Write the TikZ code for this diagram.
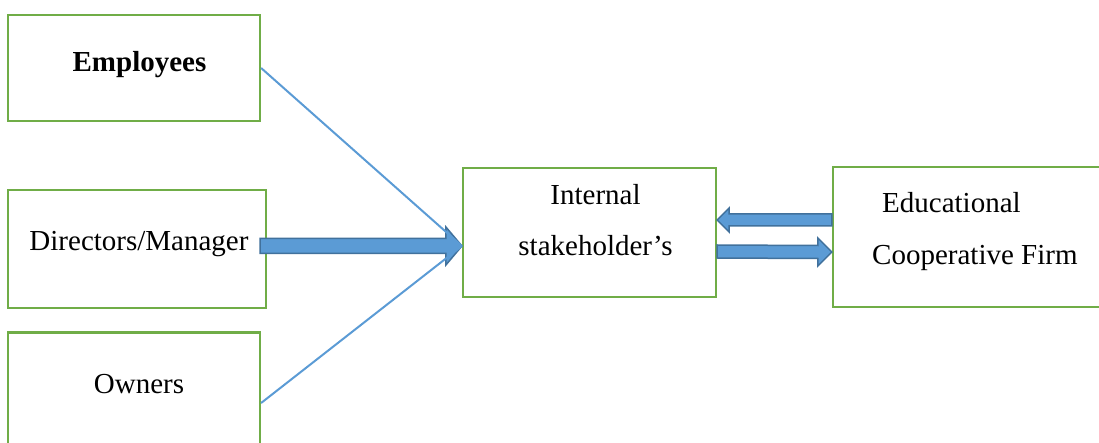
\documentclass[tikz,border=0pt]{standalone}
\usepackage{fontspec}
\setmainfont{Liberation Serif}
\usetikzlibrary{calc}

\definecolor{boxgreen}{HTML}{70AD47}
\definecolor{linkblue}{HTML}{5B9BD5}
\definecolor{edgeblue}{HTML}{41719C}

\tikzset{
  stakebox/.style={draw=boxgreen, line width=2.2pt, fill=white, inner sep=0pt},
  label/.style={anchor=base, inner sep=0pt, font=\fontsize{29}{34}\selectfont},
  thinlink/.style={draw=linkblue, line width=2pt},
  fatlink/.style={fill=linkblue, draw=edgeblue, line width=1.5pt, line join=miter},
}

% block arrow from #1 (tail) to #2 (tip): half shaft #3, half head #4, head length #5 (signed)
\newcommand\blockarrow[5]{%
  \draw[fatlink] ($(#1)+(0,#3)$) -- ($(#2)+({-(#5)},#3)$) -- ($(#2)+({-(#5)},#4)$)
    -- (#2) -- ($(#2)+({-(#5)},{-(#4)})$) -- ($(#2)+({-(#5)},{-(#3)})$)
    -- ($(#1)+(0,{-(#3)})$) -- cycle;}

\begin{document}
\begin{tikzpicture}[x=1pt, y=-1pt]
  \useasboundingbox (0,0) rectangle (1099,443);

  % boxes
  \node[stakebox, minimum width=252pt, minimum height=106pt] (emp) at (134,68) {};
  \node[stakebox, minimum width=258pt, minimum height=118pt] (dir) at (137,249) {};
  \node[stakebox, minimum width=252pt, minimum height=115pt] (own) at (134,390) {};
  \node[stakebox, minimum width=253pt, minimum height=129pt] (int) at (589.5,232.5) {};
  \node[stakebox, minimum width=277pt, minimum height=140pt] (edu) at (971.5,237) {};

  % texts
  \node[label, font=\fontsize{29}{34}\selectfont\bfseries] (empT) at (139.5,72) {Employees};
  \node[label] (dirT) at (139,251) {Directors/Manager};
  \node[label] (ownT) at (139,393) {Owners};
  \node[label] (intT1) at (595.5,205) {Internal};
  \node[label] (intT2) at (595.5,256) {stakeholder’s};
  \node[label, anchor=base west] (eduT1) at (882,213) {Educational};
  \node[label, anchor=base west] (eduT2) at (872,265) {Cooperative Firm};

  % connector end points
  \coordinate (inTip) at ([yshift=-13.5pt]int.west);
  \coordinate (ownOut) at ([yshift=-13pt]own.east);
  \coordinate (dirOut) at ([xshift=-7pt,yshift=3pt]dir.east);
  \coordinate (eduOut) at ([yshift=17pt]edu.west);
  \coordinate (intIn) at ([yshift=12.5pt]int.east);
  \coordinate (intOut) at ([yshift=-19pt]int.east);
  \coordinate (eduIn) at ([yshift=-15pt]edu.west);

  % block arrows
  \blockarrow{dirOut}{inTip}{7.5}{19}{16}
  \blockarrow{eduOut}{intIn}{6}{12}{-12}
  \blockarrow{intOut}{eduIn}{6.5}{14}{14}

  % thin links
  \draw[thinlink] (emp.east) -- (inTip);
  \draw[thinlink] (ownOut) -- (inTip);
\end{tikzpicture}
\end{document}
